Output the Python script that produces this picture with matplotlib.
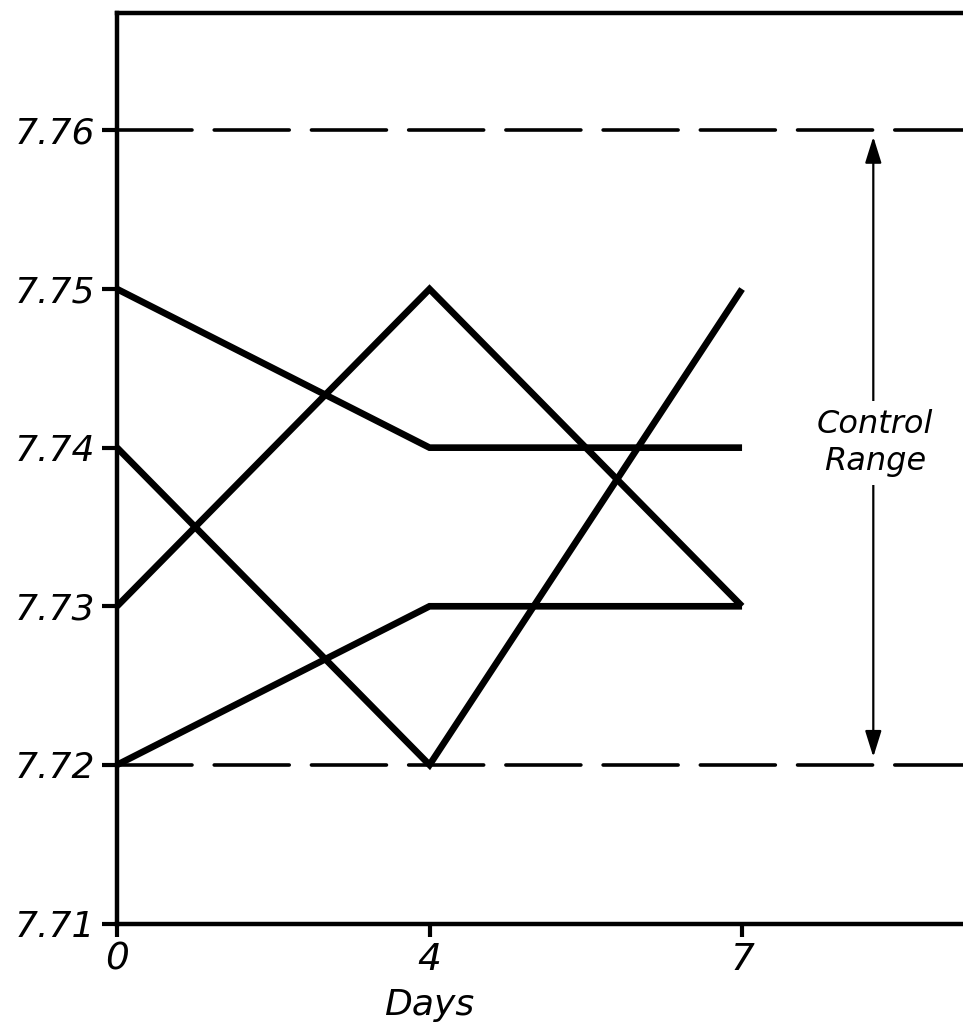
import numpy as np
import matplotlib.pyplot as plt

plt.rcParams['font.family'] = ['DejaVu Sans']
plt.rcParams['lines.scale_dashes'] = False

days = [0, 4, 7]
series = [
    [7.75, 7.74, 7.74],
    [7.73, 7.75, 7.73],
    [7.74, 7.72, 7.75],
    [7.72, 7.73, 7.73],
]
control_low, control_high = 7.72, 7.76
y_ticks = [7.71, 7.72, 7.73, 7.74, 7.75, 7.76]

# days are drawn at evenly spaced positions
pos = np.arange(len(days))

fig = plt.figure(figsize=(9.63, 10.25), dpi=100)
ax = fig.add_axes([0.1215, 0.099, 0.8785, 0.8883])

x_right = 2.707
for lvl in (control_low, control_high):
    ax.plot([0, x_right + 1], [lvl, lvl], color='black', lw=2.6,
            dashes=(54, 16), dash_capstyle='round', zorder=2)

for s in series:
    ax.plot(pos, s, color='black', lw=4.8, solid_joinstyle='miter',
            solid_capstyle='butt', zorder=3)

# control range arrow
arrow_x = 2.42
ax.annotate('', xy=(arrow_x, control_high - 0.0004), xytext=(arrow_x, control_low + 0.0005),
            arrowprops=dict(arrowstyle='<|-|>,head_length=1.6,head_width=0.5',
                            color='black', lw=1.6, shrinkA=0, shrinkB=0))
ax.text(arrow_x + 0.005, 7.7403, 'Control\nRange', ha='center', va='center',
        fontsize=23, style='italic', linespacing=1.25,
        bbox=dict(facecolor='white', edgecolor='none', pad=6))

ax.set_xlim(0, x_right)
ax.set_ylim(7.71, 7.7674)
ax.set_xticks(pos)
ax.set_xticklabels([str(d) for d in days], fontsize=27, style='italic')
ax.set_yticks(y_ticks)
ax.set_yticklabels([f'{t:.2f}' for t in y_ticks], fontsize=26, style='italic')
ax.tick_params(axis='y', direction='out', length=11, width=3, pad=5)
ax.tick_params(axis='x', direction='out', length=9, width=3, pad=4)
ax.set_xlabel('Days', fontsize=26, style='italic', va='top')
ax.xaxis.set_label_coords(1 / x_right, -0.071)

for side in ('left', 'top', 'bottom'):
    ax.spines[side].set_linewidth(3.2)
ax.spines['right'].set_visible(False)

fig.savefig('out.png', dpi=100)
